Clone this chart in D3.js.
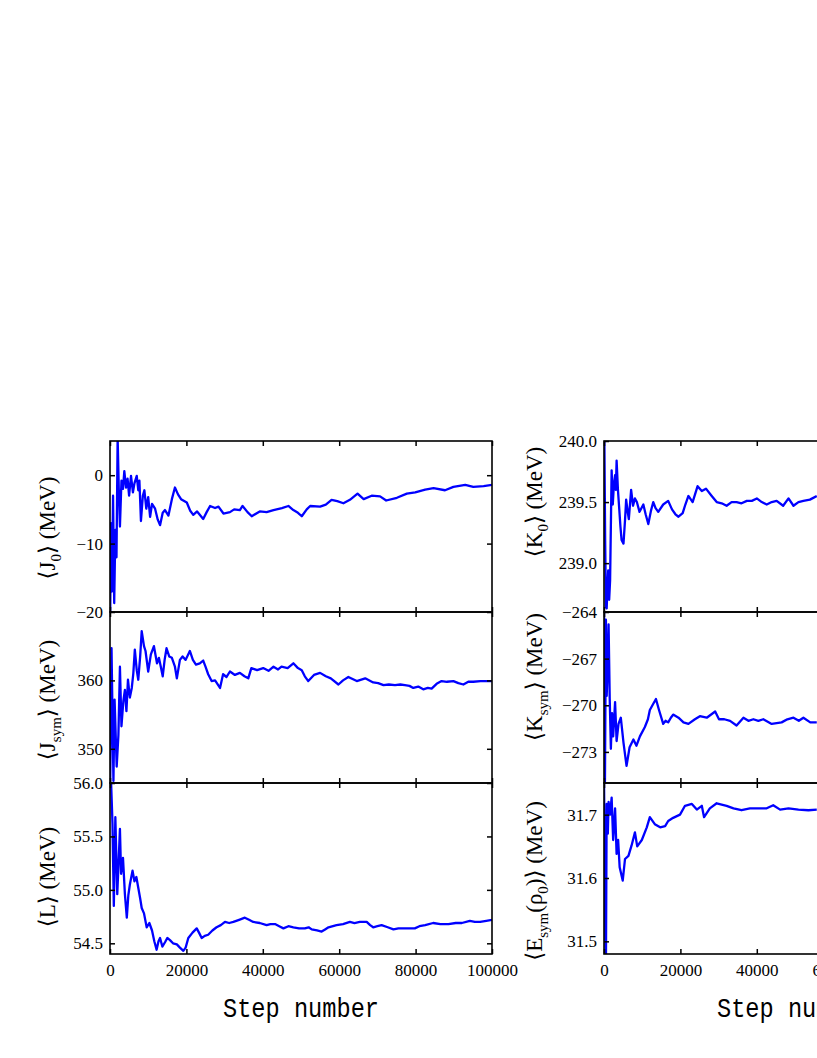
<!DOCTYPE html>
<html>
<head>
<meta charset="utf-8">
<script src="https://cdn.jsdelivr.net/npm/d3@7"></script>
<style>
  body { margin: 0; background: #fff; }
  svg { display: block; }
</style>
</head>
<body>
<div id="chart"></div>
<script>
// running averages vs MCMC step, [step, value]
const j0 = [[0,-24],[250,-7],[500,-17],[800,-3],[1100,-18.7],[1400,-8],[1700,-12],[2000,5.5],[2300,-2],[2600,-7.5],[3000,-0.8],[3400,-2],[3750,0.6],[4200,-1.8],[4600,-0.5],[5000,-3.0],[5500,-0.1],[6000,-2.5],[6400,-1.2],[7000,-0.1],[7400,-2.2],[7700,-0.8],[8100,-6.7],[8600,-3],[9000,-2.2],[9500,-4.9],[10000,-3.2],[10500,-6.1],[11000,-4.2],[11800,-4.9],[12500,-6.5],[13100,-7.3],[13800,-5.5],[14400,-5.1],[15300,-5.9],[16200,-3.5],[17000,-1.8],[17800,-2.8],[18600,-3.5],[20100,-4.0],[21000,-5.2],[21800,-5.8],[22800,-5.3],[24400,-6.4],[25300,-5.4],[26200,-4.5],[27500,-4.8],[28400,-4.6],[29700,-5.6],[31400,-5.4],[32500,-5.0],[34000,-5.1],[34700,-4.5],[36000,-5.4],[37100,-6.0],[39200,-5.3],[41000,-5.4],[42800,-5.1],[45000,-4.8],[46700,-4.5],[48000,-5.1],[49200,-5.5],[50200,-6.0],[51500,-5.0],[52400,-4.5],[55000,-4.6],[56500,-4.3],[58000,-3.6],[59500,-3.8],[61100,-4.1],[62800,-3.6],[64800,-2.7],[66400,-3.5],[68500,-3.0],[70700,-3.1],[72300,-3.7],[75100,-3.3],[77700,-2.7],[79900,-2.5],[82500,-2.1],[84700,-1.9],[87700,-2.2],[89900,-1.7],[93000,-1.4],[95100,-1.7],[97800,-1.6],[100000,-1.4]];

const jsym = [[0,342],[400,364.7],[900,345.3],[1200,357.2],[1750,347.4],[2200,352],[2600,362.0],[3000,353.3],[3500,357],[3900,358.6],[4300,355.5],[4700,360.1],[5200,357.5],[5700,358.9],[6100,361],[6500,364.5],[7000,361.5],[7400,360.1],[7900,363.5],[8300,367.2],[8900,365],[9300,364.3],[10000,361.3],[10700,363.8],[11500,365.0],[12300,362.5],[12800,363.3],[13300,362],[13800,360.6],[14300,363],[14800,364.7],[15500,363.5],[16200,363.3],[17000,362],[17500,360.3],[18300,363],[19000,363.5],[19800,363],[20900,364.3],[21700,363],[22500,362.3],[23500,362.5],[24400,362.9],[25000,362],[25700,360.9],[26600,359.9],[27500,360],[28800,358.9],[29600,360.9],[30500,360.5],[31400,361.3],[32700,360.8],[34000,361.1],[35200,360.6],[36200,360.3],[37000,361.8],[38500,361.5],[40100,361.8],[41500,361.4],[42800,362.0],[44000,361.6],[44900,362.0],[46500,361.8],[48000,362.5],[49200,361.8],[50200,361.5],[51000,360.6],[51900,359.9],[53400,360.8],[55000,361.1],[56500,360.6],[57800,360.3],[59800,359.4],[61000,360],[62400,360.5],[63500,360.2],[64600,359.9],[66800,360.3],[68900,359.7],[70200,359.6],[71600,359.3],[73000,359.4],[74600,359.3],[76000,359.4],[77200,359.3],[78400,359.2],[79400,358.9],[80700,359.1],[82000,358.7],[83200,358.9],[84200,358.8],[85500,359.5],[86800,359.9],[88200,359.8],[89900,359.9],[91200,359.6],[92500,359.4],[93800,359.8],[95100,359.8],[97000,359.9],[98500,359.9],[100000,359.9]];

const lSlope = [[0,56.4],[300,55.99],[650,55.62],[1000,54.85],[1400,55.68],[1900,54.96],[2300,55.3],[2600,55.57],[2900,55.15],[3400,55.3],[3900,54.96],[4400,54.74],[4800,54.95],[5200,55.05],[5900,55.18],[6400,55.08],[6900,55.12],[7400,55.02],[7900,54.92],[8300,54.83],[8900,54.78],[9600,54.65],[10300,54.69],[11000,54.62],[11600,54.52],[12200,54.44],[12700,54.52],[13100,54.55],[13700,54.47],[14400,54.51],[15000,54.55],[15700,54.53],[16500,54.5],[17500,54.49],[18300,54.46],[19200,54.43],[19800,54.46],[20500,54.55],[21600,54.6],[22700,54.64],[23300,54.6],[24000,54.55],[24800,54.57],[25700,54.58],[26800,54.62],[27900,54.65],[29000,54.67],[30100,54.70],[31200,54.69],[32300,54.7],[33800,54.72],[35300,54.74],[36400,54.72],[37500,54.7],[39200,54.69],[41000,54.67],[42000,54.68],[43200,54.68],[44300,54.66],[45400,54.64],[46700,54.66],[48000,54.65],[49500,54.64],[51000,54.64],[52000,54.65],[52800,54.63],[54200,54.62],[55400,54.61],[56300,54.63],[57200,54.65],[59300,54.67],[61000,54.68],[62800,54.70],[64000,54.69],[65400,54.70],[67200,54.7],[68100,54.67],[68900,54.65],[70000,54.66],[71100,54.67],[72700,54.65],[74200,54.63],[75500,54.64],[76800,54.64],[78200,54.64],[79800,54.64],[81000,54.66],[82500,54.67],[84600,54.69],[86500,54.68],[88600,54.68],[90500,54.69],[92100,54.69],[94200,54.71],[95500,54.7],[96900,54.70],[98500,54.71],[100000,54.72]];

const k0 = [[0,240.4],[300,239.2],[500,238.64],[700,238.63],[900,238.8],[1100,238.94],[1350,238.7],[1600,238.86],[2000,239.76],[2300,239.48],[2600,239.65],[2900,239.72],[3100,239.6],[3300,239.84],[3650,239.6],[4000,239.44],[4300,239.3],[4600,239.19],[5100,239.16],[5500,239.35],[5800,239.52],[6200,239.42],[6500,239.36],[7100,239.60],[7600,239.47],[8100,239.53],[8600,239.5],[9300,239.42],[10300,239.48],[10900,239.4],[11600,239.32],[12300,239.43],[12900,239.5],[13500,239.45],[14200,239.42],[15500,239.48],[16800,239.51],[17800,239.44],[18700,239.4],[19500,239.38],[20600,239.41],[21300,239.48],[22100,239.55],[23200,239.5],[24500,239.63],[25600,239.59],[26700,239.61],[28200,239.55],[29500,239.50],[30800,239.49],[32100,239.47],[33400,239.5],[34700,239.50],[36000,239.49],[37400,239.51],[38700,239.51],[40000,239.53],[41300,239.5],[42600,239.48],[43900,239.5],[45200,239.51],[46900,239.47],[48300,239.53],[49600,239.47],[50900,239.5],[52200,239.51],[53900,239.52],[55700,239.55]];

const ksym = [[0,-263],[250,-274.9],[500,-264.5],[700,-269.4],[900,-268],[1200,-264.8],[1500,-269.6],[1800,-272.8],[2100,-270.5],[2400,-272.0],[2900,-269.8],[3300,-272.3],[3800,-271.2],[4400,-270.8],[5100,-272.4],[5900,-273.9],[6700,-272.7],[7700,-272.2],[8500,-272.6],[9400,-272.0],[10700,-271.4],[11500,-270.9],[12000,-270.3],[12900,-269.9],[13600,-269.6],[14400,-270.3],[15500,-271.2],[16100,-271.0],[16800,-271.1],[17500,-270.8],[18100,-270.6],[19500,-270.8],[20800,-271.1],[22100,-271.2],[23800,-270.9],[25100,-270.7],[26900,-270.8],[29100,-270.4],[30100,-270.9],[31500,-270.9],[33000,-271.0],[34700,-271.3],[36500,-270.8],[37800,-271.0],[39100,-270.9],[40400,-271.0],[41700,-270.9],[43900,-271.2],[46500,-271.1],[48000,-270.9],[49600,-270.8],[51000,-271.0],[52200,-270.8],[54000,-271.1],[55700,-271.1]];

const esym = [[0,31.76],[400,31.46],[500,31.45],[700,31.717],[1000,31.67],[1200,31.72],[1600,31.70],[2000,31.727],[2400,31.66],[2900,31.71],[3300,31.638],[3700,31.66],[4100,31.617],[4900,31.596],[5500,31.63],[6400,31.635],[7200,31.651],[8100,31.672],[8700,31.65],[9900,31.66],[11200,31.68],[12000,31.696],[13300,31.685],[14700,31.68],[16000,31.682],[16800,31.69],[18100,31.695],[19900,31.70],[21200,31.714],[23000,31.717],[24300,31.708],[25600,31.714],[26200,31.696],[27700,31.71],[29500,31.718],[30800,31.716],[32100,31.714],[33900,31.71],[36000,31.707],[38200,31.71],[40800,31.71],[42600,31.71],[44300,31.715],[46100,31.708],[48300,31.71],[50900,31.708],[53500,31.707],[55700,31.708]];

const xTicks = [0, 20000, 40000, 60000, 80000, 100000];

const width = 817, height = 1058;
const plotW = 382, rowH = 171;
const colX = [110, 604];
const rowY = [441, 612, 783];
const serif = '"Liberation Serif", "DejaVu Serif", serif';

const panels = [
  {data: j0,     col: 0, row: 0, domain: [-20, 5],       ticks: [-20, -10, 0],          fmt: 'd',   label: ['J', '0', ''],    lc: 528},
  {data: jsym,   col: 0, row: 1, domain: [345, 370],     ticks: [350, 360],             fmt: 'd',   label: ['J', 'sym', ''],  lc: 700},
  {data: lSlope, col: 0, row: 2, domain: [54.4, 56.0],   ticks: [54.5, 55.0, 55.5, 56.0], fmt: '.1f', label: ['L', '', ''],   lc: 877},
  {data: k0,     col: 1, row: 0, domain: [238.6, 240.0], ticks: [239.0, 239.5, 240.0],  fmt: '.1f', label: ['K', '0', ''],    lc: 502},
  {data: ksym,   col: 1, row: 1, domain: [-275, -264],   ticks: [-273, -270, -267, -264], fmt: 'd', label: ['K', 'sym', ''],  lc: 677},
  {data: esym,   col: 1, row: 2, domain: [31.48, 31.75], ticks: [31.5, 31.6, 31.7],    fmt: '.1f', label: ['E', 'sym', 'rho'], lc: 881}
];

const svg = d3.select('#chart')
  .append('svg')
  .attr('width', width)
  .attr('height', height)
  .style('font-family', serif);

svg.append('rect').attr('width', width).attr('height', height).attr('fill', '#fff');

panels.forEach((p, i) => {
  const x0 = colX[p.col], y0 = rowY[p.row];
  const x = d3.scaleLinear().domain([0, 100000]).range([x0, x0 + plotW]);
  const y = d3.scaleLinear().domain(p.domain).range([y0 + rowH, y0]);

  svg.append('clipPath').attr('id', 'clip' + i)
    .append('rect').attr('x', x0).attr('y', y0).attr('width', plotW).attr('height', rowH);

  svg.append('path')
    .datum(p.data)
    .attr('clip-path', `url(#clip${i})`)
    .attr('fill', 'none')
    .attr('stroke', '#0000ff')
    .attr('stroke-width', 2.3)
    .attr('stroke-linejoin', 'round')
    .attr('d', d3.line().x(d => x(d[0])).y(d => y(d[1])));

  // inward ticks on all four sides
  const tk = 5;
  const left = svg.append('g').attr('transform', `translate(${x0},0)`)
    .call(d3.axisLeft(y).tickValues(p.ticks).tickSizeInner(-tk).tickSizeOuter(0).tickPadding(7).tickFormat(d3.format(p.fmt)));
  svg.append('g').attr('transform', `translate(${x0 + plotW},0)`)
    .call(d3.axisRight(y).tickValues(p.ticks).tickSizeInner(-tk).tickSizeOuter(0).tickFormat(''));
  svg.append('g').attr('transform', `translate(0,${y0})`)
    .call(d3.axisTop(x).tickValues(xTicks).tickSizeInner(-tk).tickSizeOuter(0).tickFormat(''));
  const bottom = svg.append('g').attr('transform', `translate(0,${y0 + rowH})`)
    .call(d3.axisBottom(x).tickValues(xTicks).tickSizeInner(-tk).tickSizeOuter(0).tickPadding(10)
      .tickFormat(p.row === 2 ? d3.format('d') : ''));

  [left, bottom].forEach(g => g.attr('font-family', serif).attr('font-size', 17));
  svg.selectAll('.domain').remove();
  svg.selectAll('.tick line').attr('stroke', '#000').attr('stroke-width', 1.5);
  left.selectAll('text').attr('fill', '#000');
  bottom.selectAll('text').attr('fill', '#000');

  svg.append('rect')
    .attr('x', x0).attr('y', y0).attr('width', plotW).attr('height', rowH)
    .attr('fill', 'none').attr('stroke', '#000').attr('stroke-width', 1.6);

  // y label, e.g. <J_0> (MeV)
  const bx = p.col === 0 ? 55 : 542;
  const t = svg.append('text')
    .attr('transform', `translate(${bx},${p.lc}) rotate(-90)`)
    .attr('text-anchor', 'middle')
    .attr('font-size', 23)
    .attr('fill', '#000');
  t.append('tspan').text('\u27E8' + p.label[0]);
  if (p.label[1]) t.append('tspan').attr('dy', 6).attr('font-size', 15).text(p.label[1]);
  if (p.label[2] === 'rho') {
    t.append('tspan').attr('dy', -6).text('(\u03C1');
    t.append('tspan').attr('dy', 6).attr('font-size', 15).text('0');
    t.append('tspan').attr('dy', -6).text(')\u27E9 (MeV)');
  } else {
    t.append('tspan').attr('dy', p.label[1] ? -6 : 0).text('\u27E9 (MeV)');
  }
});

// x labels
colX.forEach(x0 => {
  svg.append('text')
    .attr('x', x0 + plotW / 2)
    .attr('y', 1017)
    .attr('text-anchor', 'middle')
    .attr('font-family', '"Liberation Mono", monospace')
    .attr('font-size', 28)
    .attr('textLength', 156)
    .attr('lengthAdjust', 'spacingAndGlyphs')
    .attr('fill', '#000')
    .text('Step number');
});
</script>
</body>
</html>
